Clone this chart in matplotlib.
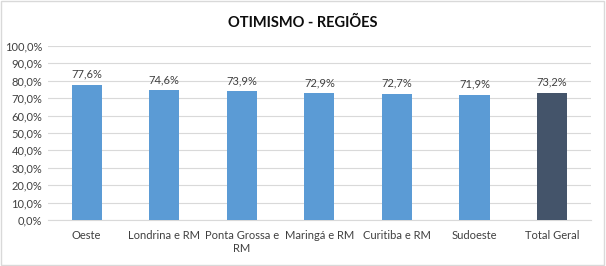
import matplotlib.pyplot as plt
import numpy as np

categorias = ["Oeste", "Londrina e RM", "Ponta Grossa e\nRM", "Maringá e RM",
              "Curitiba e RM", "Sudoeste", "Total Geral"]
valores = [77.6, 74.6, 73.9, 72.9, 72.7, 71.9, 73.2]
cores = ["#5B9BD5"] * 6 + ["#44546A"]

plt.rcParams['font.family'] = ['Lato', 'DejaVu Sans']

fig = plt.figure(figsize=(6.06, 2.66), dpi=100)
ax = fig.add_axes([0.079, 0.173, 0.896, 0.654])

x = np.arange(len(categorias))
ax.bar(x, valores, width=0.39, color=cores, zorder=3)

for xi, v in zip(x, valores):
    ax.text(xi, v + 3, f"{v:.1f}%".replace(".", ","), ha="center", va="bottom",
            fontsize=8, color="#404040")

ax.set_ylim(0, 100)
ax.set_xlim(-0.5, len(categorias) - 0.5)
ax.set_yticks(np.arange(0, 101, 10))
ax.set_yticklabels([f"{t:.1f}%".replace(".", ",") for t in np.arange(0, 101, 10)])
ax.set_xticks(x)
ax.set_xticklabels(categorias, va="top", linespacing=1.25)
ax.tick_params(axis="both", length=0, labelsize=8, colors="#404040")
ax.tick_params(axis="x", pad=7)
ax.tick_params(axis="y", pad=4)
ax.grid(axis="y", color="#d9d9d9", linewidth=0.8, zorder=0)
for s in ["top", "right", "left"]:
    ax.spines[s].set_visible(False)
ax.spines["bottom"].set_color("#d9d9d9")

fig.text(0.5, 0.915, "OTIMISMO - REGIÕES", ha="center", va="center",
         fontsize=10.5, fontweight="bold", color="#0d0d0d")

fig.patches.append(plt.Rectangle((0.002, 0.004), 0.995, 0.992, transform=fig.transFigure,
                                 fill=False, edgecolor="#d9d9d9", linewidth=1))

fig.savefig("out.png", dpi=100)
